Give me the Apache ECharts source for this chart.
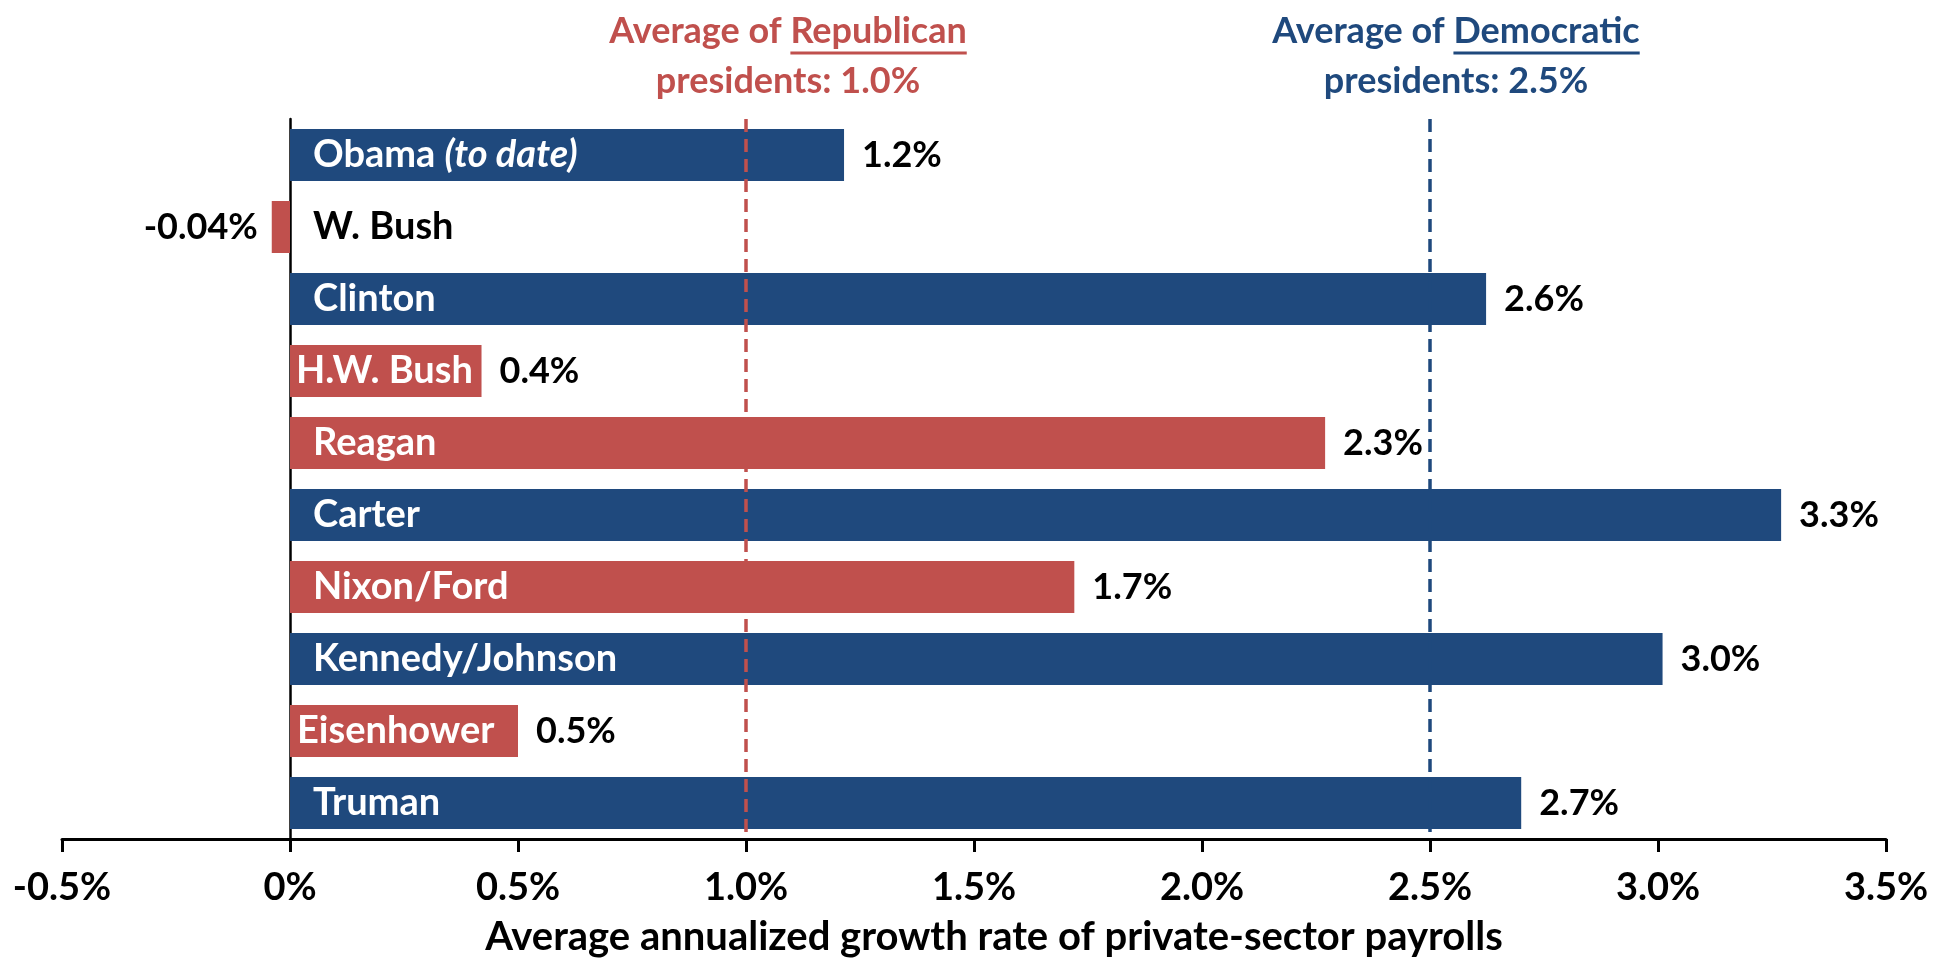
<!DOCTYPE html>
<html><head><meta charset="utf-8">
<script src="https://cdn.jsdelivr.net/npm/echarts@6/dist/echarts.min.js"></script>
<style>html,body{margin:0;padding:0;background:#fff}#c{width:1948px;height:962px}</style>
</head><body><div id="c"></div>
<script>
// ---- data ----
const presidents = ['Obama','W. Bush','Clinton','H.W. Bush','Reagan','Carter','Nixon/Ford','Kennedy/Johnson','Eisenhower','Truman'];
const party = ['D','R','D','R','R','D','R','D','R','D'];
const growth = [1.215, -0.04, 2.623, 0.42, 2.27, 3.27, 1.72, 3.01, 0.50, 2.70];
const valueLabels = ['1.2%','-0.04%','2.6%','0.4%','2.3%','3.3%','1.7%','3.0%','0.5%','2.7%'];
const xMin = -0.5, xMax = 3.5, xStep = 0.5;
const repAvg = 1.0, demAvg = 2.5;
const axisTitle = 'Average annualized growth rate of private-sector payrolls';

// ---- style ----
const BLUE = '#1F497D', RED = '#C0504D';
const FONT = 'Lato';
const FS = 36;
const NFS = 38;
const colorOf = p => p === 'D' ? BLUE : RED;

const chart = echarts.init(document.getElementById('c'), null, {renderer:'canvas'});

const barData = growth.map((v,i) => ({
  value: v,
  itemStyle: {color: colorOf(party[i])},
  label: {
    show: true,
    position: v < 0 ? 'left' : 'right',
    distance: v < 0 ? 14 : 18,
    formatter: () => valueLabels[i]
  }
}));

const shortInset = {'H.W. Bush': 6, 'Eisenhower': 7};
const nameData = growth.map((v,i) => {
  const neg = v < 0;
  const nm = presidents[i];
  return {
    value: v,
    itemStyle: {color: 'rgba(0,0,0,0)'},
    label: {
      show: true,
      position: neg ? 'right' : 'insideLeft',
      distance: shortInset[nm] !== undefined ? shortInset[nm] : 23,
      color: neg ? '#000' : '#fff',
      formatter: nm === 'Obama' ? '{n|Obama }{i|(to date)}' : '{n|' + nm + '}',
      rich: {
        n: {fontFamily: FONT, fontWeight: 'bold', fontSize: NFS, color: neg ? '#000' : '#fff'},
        i: {fontFamily: FONT, fontWeight: 'bold', fontStyle: 'italic', fontSize: NFS, color: '#fff'}
      }
    }
  };
});

const option = {
  animation: false,
  backgroundColor: '#fff',
  grid: {left: 62, right: 62, top: 119, bottom: 116, containLabel: false},
  xAxis: {
    type: 'value', min: xMin, max: xMax, interval: xStep,
    axisLine: {show: true, onZero: false, lineStyle: {color: '#000', width: 3}},
    axisTick: {show: true, length: 13, lineStyle: {color: '#000', width: 3}},
    splitLine: {show: false},
    axisLabel: {
      margin: 30, color: '#000', fontFamily: FONT, fontWeight: 'bold', fontSize: 38,
      formatter: v => (v === 0 ? '0' : v.toFixed(1)) + '%'
    },
    name: axisTitle, nameLocation: 'middle', nameGap: 78,
    nameTextStyle: {color: '#000', fontFamily: FONT, fontWeight: 'bold', fontSize: 40, padding: [0,0,0,40]}
  },
  yAxis: {
    type: 'category', data: presidents, inverse: true,
    axisLine: {show: true, onZero: true, lineStyle: {color: '#000', width: 2.5}},
    axisTick: {show: false}, axisLabel: {show: false}, splitLine: {show: false}
  },
  series: [
    {
      type: 'bar', data: barData, barCategoryGap: '28%', barGap: '-100%', z: 2,
      label: {color: '#000', fontFamily: FONT, fontWeight: 'bold', fontSize: FS},
      markLine: {
        silent: true, symbol: 'none', label: {show: false}, z: 5,
        data: [
          {xAxis: repAvg, lineStyle: {color: RED, type: [13, 7], width: 3.5}},
          {xAxis: demAvg, lineStyle: {color: BLUE, type: [13, 7], width: 3.5}}
        ]
      }
    },
    {
      type: 'bar', data: nameData, barCategoryGap: '28%', barGap: '-100%', z: 3, silent: true
    }
  ]
};
chart.setOption(option);

// ---- annotations positioned through the axis scale ----
const cvs = document.createElement('canvas').getContext('2d');
const afont = 'bold ' + FS + 'px ' + FONT;
cvs.font = afont;
function annot(xVal, dx, color, pre, und, line2) {
  const px = chart.convertToPixel({xAxisIndex: 0}, xVal);
  const cx = px + dx;
  const wAll = cvs.measureText(pre + und).width;
  const wPre = cvs.measureText(pre).width;
  const wUnd = cvs.measureText(und).width;
  const left = cx - wAll / 2;
  return [
    {type: 'text', x: left, y: 31, style: {text: pre + und, fill: color, font: afont, align: 'left', verticalAlign: 'middle', textAlign: 'left', textVerticalAlign: 'middle'}},
    {type: 'line', shape: {x1: left + wPre, y1: 53, x2: left + wPre + wUnd, y2: 53}, style: {stroke: color, lineWidth: 3}},
    {type: 'text', x: cx, y: 81, style: {text: line2, fill: color, font: afont, align: 'center', verticalAlign: 'middle', textAlign: 'center', textVerticalAlign: 'middle'}}
  ];
}
chart.setOption({
  graphic: [
    ...annot(repAvg, 42, RED, 'Average of ', 'Republican', 'presidents: ' + repAvg.toFixed(1) + '%'),
    ...annot(demAvg, 26, BLUE, 'Average of ', 'Democratic', 'presidents: ' + demAvg.toFixed(1) + '%')
  ]
});
</script>
</body></html>
